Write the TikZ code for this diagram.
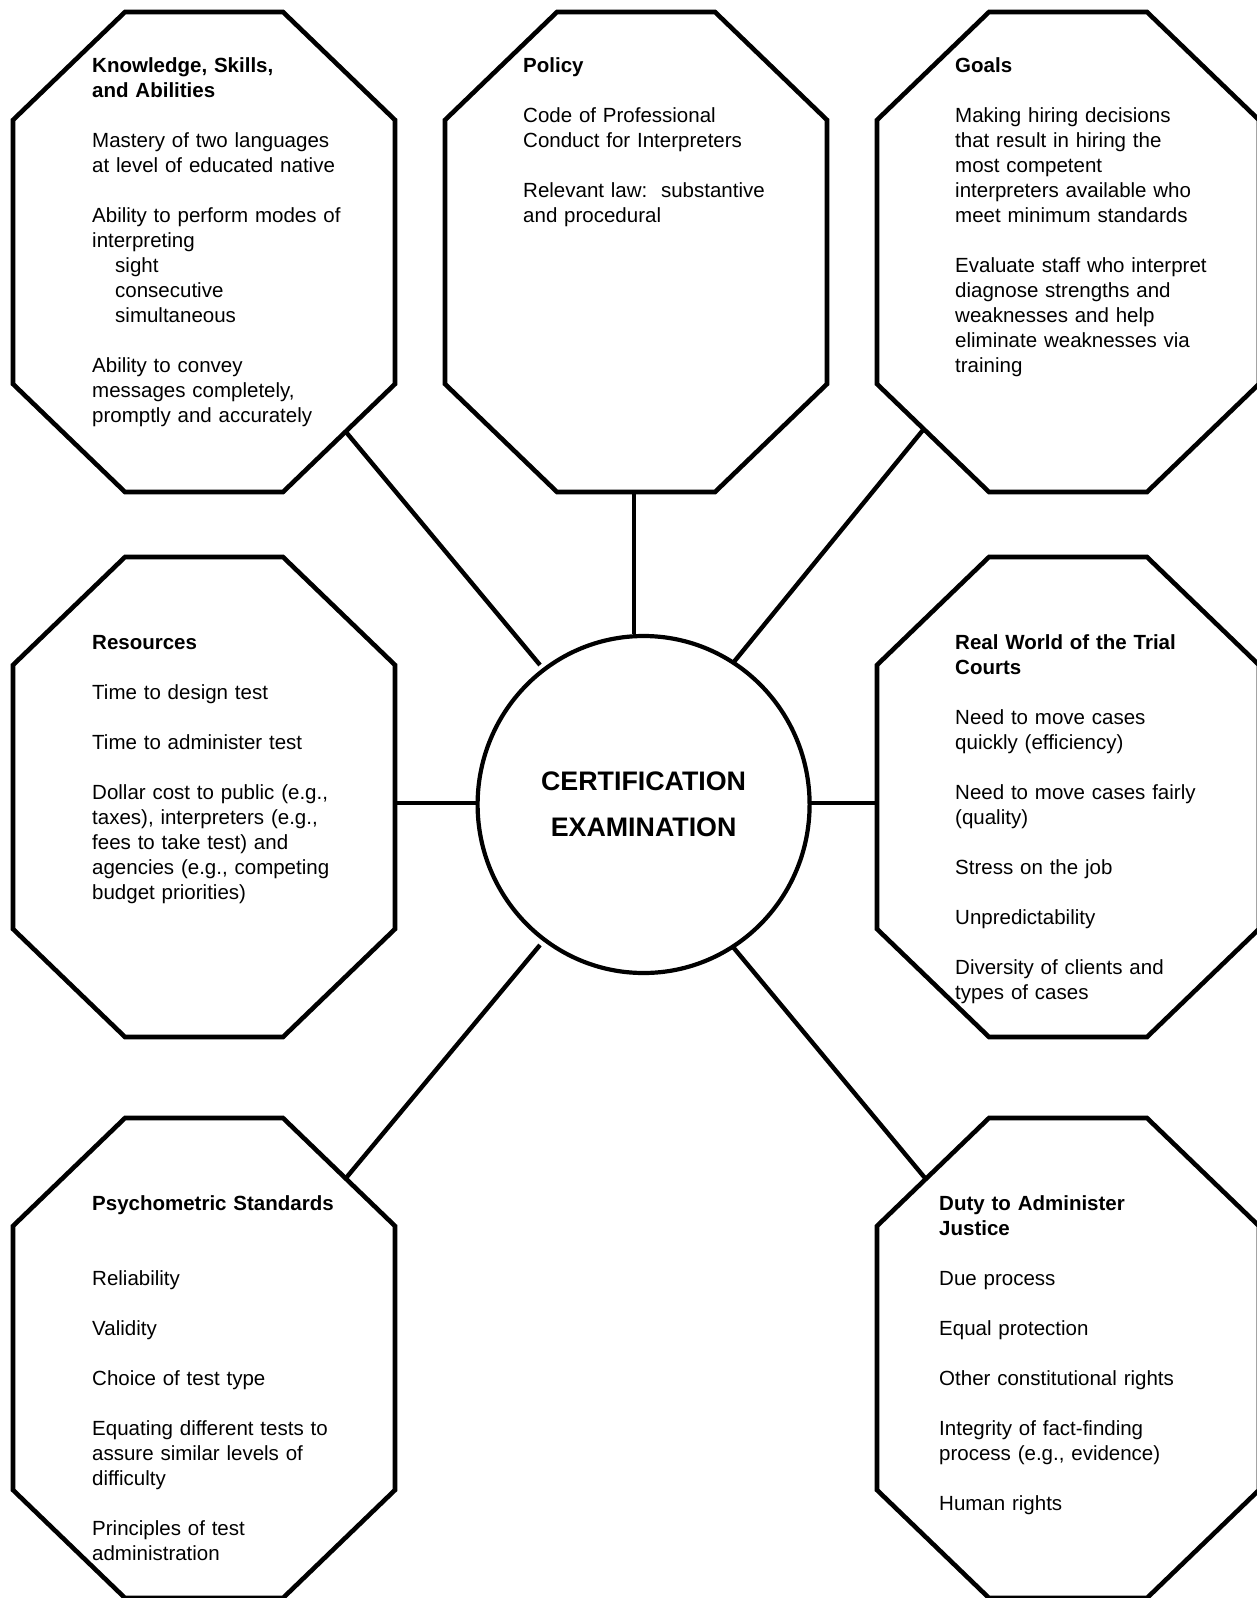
\documentclass[tikz,border=0pt]{standalone}
\usepackage{fontspec}
\setmainfont{Liberation Sans}
\usetikzlibrary{shapes.geometric}
\newcommand\octoutline[1]{%
  \draw[octline] ([xshift=112pt]#1.north west) -- ([xshift=-112pt]#1.north east)
    -- ([yshift=-108pt]#1.north east) -- ([yshift=108pt]#1.south east)
    -- ([xshift=-112pt]#1.south east) -- ([xshift=112pt]#1.south west)
    -- ([yshift=108pt]#1.south west) -- ([yshift=-108pt]#1.north west) -- cycle;}
\begin{document}
\begin{tikzpicture}[x=1pt,y=-1pt,
  octbox/.style={draw=none, minimum width=382pt, minimum height=480pt, inner sep=0pt, outer sep=0pt},
  octline/.style={line width=4.6pt, line join=miter},
  conn/.style={line width=4.4pt},
  body/.style={anchor=base west, inner sep=0pt, text width=360pt, align=left,
    font=\fontsize{20.5}{25}\selectfont},
  centre/.style={ellipse, draw, line width=4.2pt, minimum width=332pt, minimum height=337pt,
    inner sep=0pt, align=center, font=\bfseries\fontsize{26.8}{46}\selectfont}]
\useasboundingbox (0,0) rectangle (1257,1598);

% octagons
\node[octbox] (ksa) at (204,252) {};
\node[octbox] (pol) at (636,252) {};
\node[octbox] (goal) at (1068,252) {};
\node[octbox] (res) at (204,797) {};
\node[octbox] (real) at (1068,797) {};
\node[octbox] (psy) at (204,1358) {};
\node[octbox] (duty) at (1068,1358) {};
\octoutline{ksa}
\octoutline{pol}
\octoutline{goal}
\octoutline{res}
\octoutline{real}
\octoutline{psy}
\octoutline{duty}

% centre
\node[centre] (cert) at (643.6,804.5) {CERTIFICATION\\EXAMINATION};

% connector ends
\coordinate (ksa-l) at (346,432);   \coordinate (cert-ksa) at (540,665);
\coordinate (pol-l) at (634,492);   \coordinate (cert-pol) at (634,634);
\coordinate (goal-l) at (923,430);  \coordinate (cert-goal) at (733,663);
\coordinate (res-l) at (395,803);   \coordinate (cert-res) at (477,803);
\coordinate (real-l) at (877,803);  \coordinate (cert-real) at (810,803);
\coordinate (psy-l) at (346,1178);  \coordinate (cert-psy) at (540,945);
\coordinate (duty-l) at (925,1178); \coordinate (cert-duty) at (733,947);
\draw[conn] (ksa-l) -- (cert-ksa);
\draw[conn] (pol-l) -- (cert-pol);
\draw[conn] (goal-l) -- (cert-goal);
\draw[conn] (res-l) -- (cert-res);
\draw[conn] (real-l) -- (cert-real);
\draw[conn] (psy-l) -- (cert-psy);
\draw[conn] (duty-l) -- (cert-duty);

% texts
\node[body] (ksa-t) at (92,72) {\textbf{Knowledge, Skills,}\\\textbf{and Abilities}\\[25pt]Mastery of two languages\\at level of educated native\\[25pt]Ability to perform modes of\\interpreting\\\hspace*{23pt}sight\\\hspace*{23pt}consecutive\\\hspace*{23pt}simultaneous\\[25pt]Ability to convey\\messages completely,\\promptly and accurately};
\node[body] (pol-t) at (523,72) {\textbf{Policy}\\[25pt]Code of Professional\\Conduct for Interpreters\\[25pt]Relevant law:\ \ substantive\\and procedural};
\node[body] (goal-t) at (955,72) {\textbf{Goals}\\[25pt]Making hiring decisions\\that result in hiring the\\most competent\\interpreters available who\\meet minimum standards\\[25pt]Evaluate staff who interpret\\diagnose strengths and\\weaknesses and help\\eliminate weaknesses via\\training};
\node[body] (res-t) at (92,649) {\textbf{Resources}\\[25pt]Time to design test\\[25pt]Time to administer test\\[25pt]Dollar cost to public (e.g.,\\taxes), interpreters (e.g.,\\fees to take test) and\\agencies (e.g., competing\\budget priorities)};
\node[body] (real-t) at (955,649) {\textbf{Real World of the Trial}\\\textbf{Courts}\\[25pt]Need to move cases\\quickly (efficiency)\\[25pt]Need to move cases fairly\\{(quality)}\\[25pt]Stress on the job\\[25pt]Unpredictability\\[25pt]Diversity of clients and\\types of cases};
\node[body] (psy-t) at (92,1210) {\textbf{Psychometric Standards}\\[50pt]Reliability\\[25pt]Validity\\[25pt]Choice of test type\\[25pt]Equating different tests to\\assure similar levels of\\difficulty\\[25pt]Principles of test\\administration};
\node[body] (duty-t) at (939,1210) {\textbf{Duty to Administer}\\\textbf{Justice}\\[25pt]Due process\\[25pt]Equal protection\\[25pt]Other constitutional rights\\[25pt]Integrity of fact-finding\\process (e.g., evidence)\\[25pt]Human rights};
\end{tikzpicture}
\end{document}
